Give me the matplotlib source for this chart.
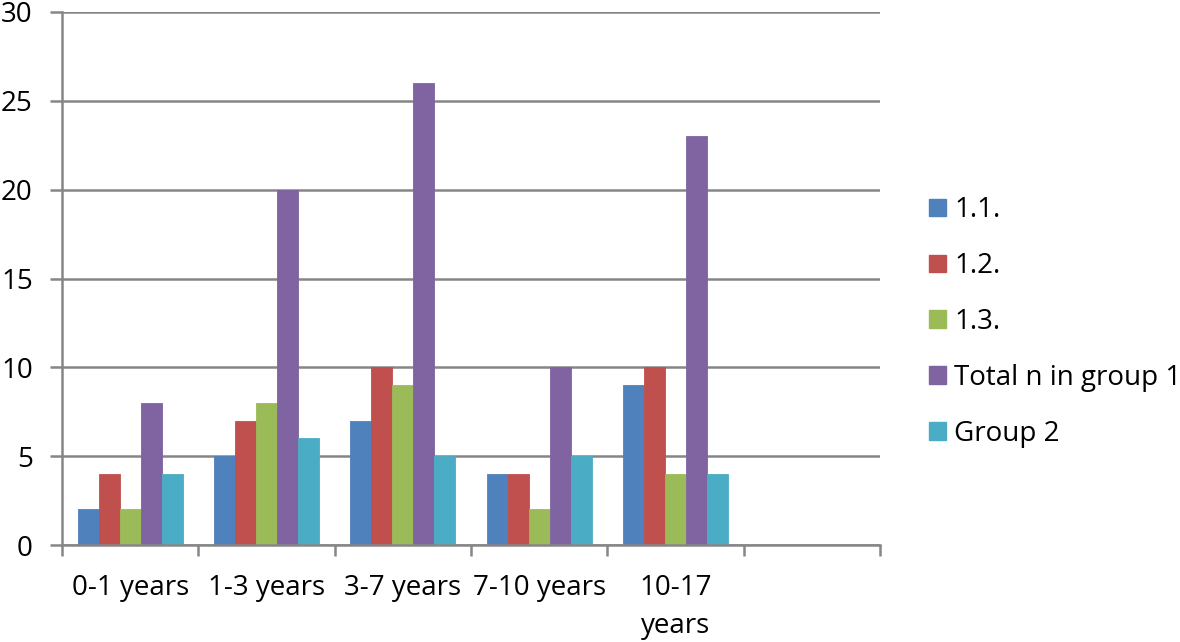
import matplotlib
matplotlib.use("Agg")
import matplotlib.pyplot as plt
import numpy as np
from matplotlib.patches import Patch

categories = ["0-1 years", "1-3 years", "3-7 years", "7-10 years", "10-17\nyears", ""]
series_names = ["1.1.", "1.2.", "1.3.", "Total n in group 1", "Group 2"]
s11 = [2, 5, 7, 4, 9]
s12 = [4, 7, 10, 4, 10]
s13 = [2, 8, 9, 2, 4]
total_g1 = [8, 20, 26, 10, 23]
group2 = [4, 6, 5, 5, 4]
colors = ["#4F81BD", "#C0504D", "#9BBB59", "#8064A2", "#4BACC6"]
yticks = [0, 5, 10, 15, 20, 25, 30]

plt.rcParams['font.family'] = ['Open Sans', 'DejaVu Sans']
fig = plt.figure(figsize=(11.8, 6.42), dpi=100)
ax = fig.add_axes([62/1180, 1-545/642, 818/1180, 533/642])

grey = "#868686"
n_slots = len(categories)
slot = 1.0
bw = slot / 6.5
series = [s11, s12, s13, total_g1, group2]
x = np.arange(len(s11))
for i, (vals, c) in enumerate(zip(series, colors)):
    ax.bar(x + (i - 2) * bw, vals, width=bw, color=c, edgecolor=c, linewidth=0.6, zorder=3)

ax.set_xlim(-0.5, n_slots - 0.5)
ax.set_ylim(0, 30)
ax.set_yticks(yticks)
ax.set_yticklabels([str(v) for v in yticks], fontsize=20)
ax.yaxis.grid(True, color=grey, linewidth=1.8, zorder=0)
ax.set_xticks(np.arange(n_slots))
ax.set_xticklabels(categories, fontsize=20, linespacing=1.45)
ax.set_xticks(np.arange(n_slots + 1) - 0.5, minor=True)
ax.tick_params(axis='x', which='major', length=0, pad=21)
ax.tick_params(axis='x', which='minor', length=8, width=1.8, color=grey, direction='out')
ax.tick_params(axis='y', length=9, width=1.8, color=grey, pad=12)
for s in ['top', 'right']:
    ax.spines[s].set_visible(False)
for s in ['left', 'bottom']:
    ax.spines[s].set_color(grey)
    ax.spines[s].set_linewidth(1.8)
    ax.spines[s].set_zorder(4)

handles = [Patch(facecolor=c, edgecolor=c) for c in colors]
leg = fig.legend(handles, series_names, loc='center left', bbox_to_anchor=(929/1180, 1-322/642),
                 frameon=False, fontsize=20, handlelength=0.6, handleheight=0.6,
                 handletextpad=0.3, labelspacing=1.0, borderaxespad=0, borderpad=0)

fig.savefig("out.png", dpi=100)
